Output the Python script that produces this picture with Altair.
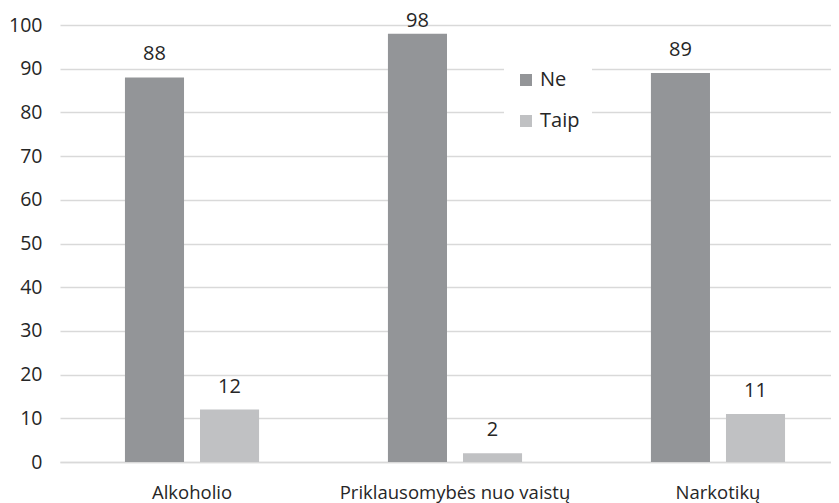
import altair as alt
import pandas as pd

categories = ["Alkoholio", "Priklausomybės nuo vaistų", "Narkotikų"]
series = ["Ne", "Taip"]
ne_values = [88, 98, 89]
taip_values = [12, 2, 11]
y_ticks = [0, 10, 20, 30, 40, 50, 60, 70, 80, 90, 100]

rows = []
for c, n, t in zip(categories, ne_values, taip_values):
    rows.append({"cat": c, "series": "Ne", "value": n})
    rows.append({"cat": c, "series": "Taip", "value": t})
df = pd.DataFrame(rows)

FONT = "Open Sans"
TXT = "#262626"

x = alt.X("cat:N", sort=categories, title=None,
          scale=alt.Scale(paddingInner=0.49, paddingOuter=0.247, range=[0, 790]),
          axis=alt.Axis(labelAngle=0, labelFontSize=18.5, labelFont=FONT, labelColor=TXT,
                        ticks=False, domainColor="#d9d9d9", domainWidth=1.3,
                        labelPadding=21, labelBaseline="top", labelLimit=0))
xo = alt.XOffset("series:N", sort=series,
                 scale=alt.Scale(paddingInner=0.213, paddingOuter=0))
y = alt.Y("value:Q", title=None,
          scale=alt.Scale(domain=[0, 100], nice=False),
          axis=alt.Axis(values=y_ticks, labelFontSize=19.5, labelFont=FONT, labelColor=TXT,
                        ticks=False, domain=False, gridColor="#d9d9d9", gridWidth=1.3,
                        labelPadding=18))

bars = alt.Chart(df).mark_bar().encode(
    x=x, xOffset=xo, y=y,
    color=alt.Color("series:N", sort=series,
                    scale=alt.Scale(domain=series, range=["#939598", "#c0c1c3"]),
                    legend=alt.Legend(title=None, orient="none", legendX=444, legendY=33,
                                      symbolType="square", symbolSize=144,
                                      symbolStrokeWidth=0,
                                      labelFontSize=20, labelFont=FONT, labelColor=TXT,
                                      rowPadding=21, padding=12, fillColor="white",
                                      labelOffset=4)),
)

labels_low = alt.Chart(df).transform_filter("datum.value < 95").mark_text(
    baseline="alphabetic", dy=-17, fontSize=20, font=FONT, color=TXT).encode(
    x=x, xOffset=xo, y=y, text=alt.Text("value:Q"),
)
labels_high = alt.Chart(df).transform_filter("datum.value >= 95").mark_text(
    baseline="alphabetic", dy=-7, fontSize=20, font=FONT, color=TXT).encode(
    x=x, xOffset=xo, y=y, text=alt.Text("value:Q"),
)

chart = (bars + labels_low + labels_high).properties(
    width=771, height=437,
    autosize=alt.AutoSizeParams(type="none"),
    padding={"left": 52, "top": 17, "right": 0, "bottom": 41},
).configure_view(stroke=None)

chart.save("out.html", embed_options={"renderer": "svg", "actions": False})
